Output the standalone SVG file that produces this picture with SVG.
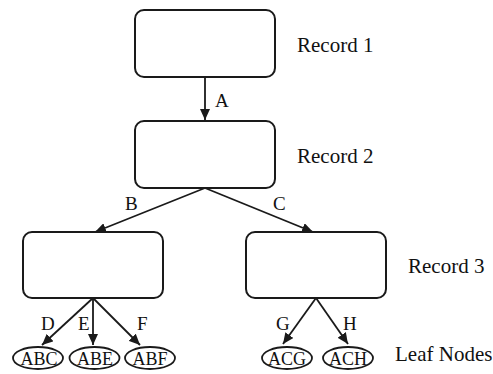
<svg xmlns="http://www.w3.org/2000/svg" width="493" height="374" viewBox="0 0 493 374">
<defs>
<style>
.box{fill:#fff;stroke:#1a1a1a;stroke-width:2}
.leaf{fill:#fff;stroke:#1a1a1a;stroke-width:1.8}
.edge{stroke:#1a1a1a;stroke-width:1.8;fill:none;marker-end:url(#ah)}
.lbl{font-family:"Liberation Serif",serif;fill:#111}
.rec{font-size:21px}
.elab{font-size:19px}
.ltxt{font-size:18px;text-anchor:middle}
</style>
<marker id="ah" markerUnits="userSpaceOnUse" markerWidth="12" markerHeight="10" refX="11" refY="5" orient="auto">
<path d="M0,0 L11,5 L0,10 Z" fill="#1a1a1a"/>
</marker>
</defs>
<rect width="493" height="374" fill="#fff"/>
<g id="connectors">
<line class="edge" x1="205" y1="77" x2="205" y2="120"/>
<line class="edge" x1="205" y1="188" x2="95" y2="232"/>
<line class="edge" x1="205" y1="188" x2="313" y2="232"/>
<line class="edge" x1="93" y1="298" x2="42" y2="345"/>
<line class="edge" x1="93" y1="298" x2="93" y2="345"/>
<line class="edge" x1="93" y1="298" x2="140" y2="345"/>
<line class="edge" x1="316" y1="298" x2="283" y2="344"/>
<line class="edge" x1="316" y1="298" x2="348" y2="344"/>
<text class="lbl elab" x="215" y="107">A</text>
<text class="lbl elab" x="125" y="210">B</text>
<text class="lbl elab" x="273" y="210">C</text>
<text class="lbl elab" x="41" y="330">D</text>
<text class="lbl elab" x="78" y="330">E</text>
<text class="lbl elab" x="137" y="330">F</text>
<text class="lbl elab" x="276" y="330">G</text>
<text class="lbl elab" x="343" y="330">H</text>
</g>
<g id="record1">
<rect class="box" x="135" y="10" width="140" height="67" rx="9"/>
<text class="lbl rec" x="297" y="52">Record 1</text>
</g>
<g id="record2">
<rect class="box" x="135" y="121" width="140" height="67" rx="9"/>
<text class="lbl rec" x="297" y="163">Record 2</text>
</g>
<g id="record3-left">
<rect class="box" x="23" y="232" width="140" height="66" rx="9"/>
</g>
<g id="record3-right">
<rect class="box" x="246" y="232" width="140" height="66" rx="9"/>
<text class="lbl rec" x="408" y="273">Record 3</text>
</g>
<g id="leaf-abc">
<ellipse class="leaf" cx="38" cy="358" rx="25" ry="11"/>
<text class="lbl ltxt" x="39" y="364.5">ABC</text>
</g>
<g id="leaf-abe">
<ellipse class="leaf" cx="94.5" cy="358" rx="25" ry="11"/>
<text class="lbl ltxt" x="95" y="364.5">ABE</text>
</g>
<g id="leaf-abf">
<ellipse class="leaf" cx="150" cy="358" rx="25" ry="11"/>
<text class="lbl ltxt" x="150" y="364.5">ABF</text>
</g>
<g id="leaf-acg">
<ellipse class="leaf" cx="287" cy="358" rx="25" ry="11"/>
<text class="lbl ltxt" x="287" y="364.5">ACG</text>
</g>
<g id="leaf-ach">
<ellipse class="leaf" cx="348" cy="358" rx="25" ry="11"/>
<text class="lbl ltxt" x="348" y="364.5">ACH</text>
</g>
<g id="leaf-label">
<text class="lbl rec" x="395" y="361">Leaf Nodes</text>
</g>
</svg>
